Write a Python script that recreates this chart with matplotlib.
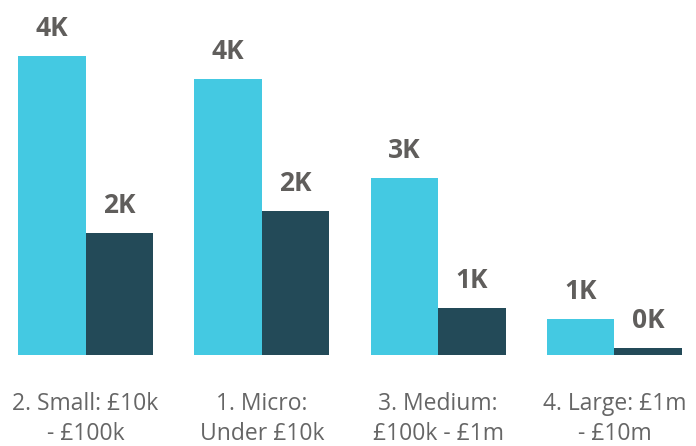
import numpy as np
from matplotlib import pyplot as plt

# Data
categories = ['2. Small: £10k\n- £100k', '1. Micro:\nUnder £10k',
              '3. Medium:\n£100k - £1m', '4. Large: £1m\n- £10m']
series_a = [4270, 3940, 2530, 520]
series_b = [1740, 2060, 670, 100]

light = '#44C9E2'
dark = '#234A58'
grey = '#605E5C'

fig = plt.figure(figsize=(6.96, 4.46), dpi=100)
ax = fig.add_axes([0, 91 / 446, 1, 355 / 446])

x = np.arange(len(categories))
w = 0.383
bars_a = ax.bar(x - w / 2, series_a, w, color=light)
bars_b = ax.bar(x + w / 2, series_b, w, color=dark)

# value labels
for bars in (bars_a, bars_b):
    for b in bars:
        v = b.get_height()
        ax.annotate('%dK' % round(v / 1000), (b.get_x() + b.get_width() / 2, v),
                    xytext=(0, 10), textcoords='offset points', ha='center', va='bottom',
                    fontsize=19, fontweight='bold', color=grey, family='Open Sans')

ax.set_xlim(-0.485, 3.463)
ax.set_ylim(0, 5071)
ax.set_xticks(x)
ax.set_xticklabels(categories, fontsize=16.5, color='#666666', family='Open Sans', linespacing=1.3)
ax.tick_params(axis='x', length=0, pad=27)
ax.set_yticks([])
for s in ax.spines.values():
    s.set_visible(False)

plt.savefig('out.png')
